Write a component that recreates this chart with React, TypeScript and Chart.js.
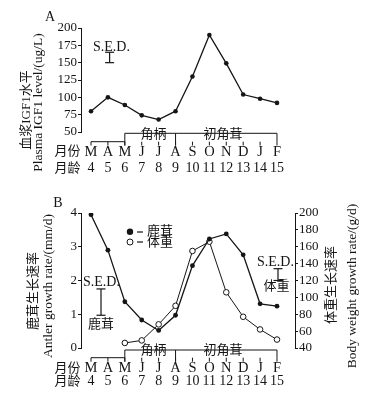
import React, { useEffect, useRef } from 'react';
import { Chart, registerables } from 'chart.js';
Chart.register(...registerables);

// ---- data ----
const months = ['M', 'A', 'M', 'J', 'J', 'A', 'S', 'O', 'N', 'D', 'J', 'F'];
const ages = ['4', '5', '6', '7', '8', '9', '10', '11', '12', '13', '14', '15'];
const igf1 = [80, 100, 89, 74, 68, 80, 130, 190, 149, 104, 98, 92];
const antlerRate = [3.95, 2.9, 1.37, 0.83, 0.52, 0.97, 2.44, 3.23, 3.38, 2.76, 1.31, 1.24];
const bodyRate = [null, null, 46, 49, 68, 90, 155, 166, 106, 77, 62, 50];
const sedIgf = [150, 165];
const sedAntler = [0.97, 1.75];
const sedBody = [120, 134];
const phases = ['角柄', '初角茸'];

const SERIF = "'Liberation Serif', 'Noto Sans CJK SC', serif";
const INK = '#151515';
const X_MIN = -0.592;
const X_MAX = 12.065;

function font(size: number) {
  return `${size}px ${SERIF}`;
}

function text(ctx: CanvasRenderingContext2D, s: string, x: number, y: number, size = 13, align: CanvasTextAlign = 'center') {
  ctx.font = font(size);
  ctx.fillStyle = INK;
  ctx.textAlign = align;
  ctx.textBaseline = 'middle';
  ctx.fillText(s, x, y);
}

function vtext(ctx: CanvasRenderingContext2D, s: string, x: number, y: number, size = 13) {
  ctx.save();
  ctx.translate(x, y);
  ctx.rotate(-Math.PI / 2);
  text(ctx, s, 0, 0, size);
  ctx.restore();
}

function line(ctx: CanvasRenderingContext2D, x1: number, y1: number, x2: number, y2: number) {
  ctx.beginPath();
  ctx.moveTo(x1, y1);
  ctx.lineTo(x2, y2);
  ctx.stroke();
}

function errorBar(ctx: CanvasRenderingContext2D, x: number, yTop: number, yBot: number) {
  line(ctx, x, yTop, x, yBot);
  line(ctx, x - 4.5, yTop, x + 4.5, yTop);
  line(ctx, x - 4.5, yBot, x + 4.5, yBot);
}

// month axis with phase brackets; all in global coords
function monthAxis(ctx: CanvasRenderingContext2D, px: (v: number) => number, topY: number, baseY: number, tickY: number, monthY: number, ageY: number) {
  ctx.strokeStyle = INK;
  ctx.lineWidth = 1;
  line(ctx, px(2), topY, px(11), topY);
  line(ctx, px(2), topY, px(2), tickY);
  line(ctx, px(5), topY, px(5), tickY);
  line(ctx, px(11), topY, px(11), baseY);
  line(ctx, px(0), baseY, px(2), baseY);
  for (let i = 0; i < months.length; i++) {
    line(ctx, px(i), baseY, px(i), tickY);
    text(ctx, months[i], px(i), monthY, 14.5);
    text(ctx, ages[i], px(i), ageY, 14);
  }
  text(ctx, phases[0], px(3.7), topY + 1, 13);
  text(ctx, phases[1], px(7.8), topY + 1, 13);
  text(ctx, '月份', 67.5, monthY, 13);
  text(ctx, '月龄', 67.5, ageY, 13);
}

function baseScaleX() {
  return { type: 'linear' as const, display: false, min: X_MIN, max: X_MAX };
}

function yAxis(position: 'left' | 'right', min: number, max: number, step: number, width: number) {
  return {
    type: 'linear' as const,
    position,
    min,
    max,
    ticks: { stepSize: step, autoSkip: false, font: { family: SERIF, size: 13 }, color: INK, padding: 1 },
    grid: { drawOnChartArea: false, drawTicks: true, tickLength: 3, color: INK, lineWidth: 1 },
    border: { display: true, color: INK, width: 1 },
    afterFit: (s: any) => {
      s.width = width;
    },
  };
}

function ChartA() {
  const ref = useRef<HTMLCanvasElement>(null);
  useEffect(() => {
    const OFF = 0;
    const extras = {
      id: 'extrasA',
      afterDraw(chart: any) {
        const ctx = chart.ctx as CanvasRenderingContext2D;
        const xs = chart.scales.x;
        const ys = chart.scales.y;
        const px = (v: number) => xs.getPixelForValue(v);
        ctx.save();
        ctx.translate(0, -OFF);
        text(ctx, 'A', 50, 17, 14);
        text(ctx, 'S.E.D.', 111.5, 47, 14);
        ctx.strokeStyle = INK;
        ctx.lineWidth = 1.2;
        errorBar(ctx, px(1.1), ys.getPixelForValue(sedIgf[1]) + OFF, ys.getPixelForValue(sedIgf[0]) + OFF);
        monthAxis(ctx, px, 133.3, 141.7, 145.5, 152, 168.3);
        vtext(ctx, '血浆IGF1水平', 27, 110, 13);
        vtext(ctx, 'Plasma IGF1 level/(ug/L)', 38.5, 102.5, 13.5);
        ctx.restore();
      },
    };
    const chart = new Chart(ref.current!, {
      type: 'line',
      data: {
        datasets: [
          {
            data: igf1.map((v, i) => ({ x: i, y: v })),
            borderColor: INK,
            backgroundColor: INK,
            borderWidth: 1.3,
            pointRadius: 2.3,
            pointBorderWidth: 0,
            tension: 0,
          },
        ],
      },
      options: {
        responsive: false,
        animation: false,
        devicePixelRatio: 1,
        layout: { padding: { left: 0, right: 74, top: 28, bottom: 58 } },
        plugins: { legend: { display: false }, tooltip: { enabled: false } },
        scales: {
          x: baseScaleX(),
          y: yAxis('left', 50, 200, 25, 81),
        },
      } as any,
      plugins: [extras],
    });
    return () => chart.destroy();
  }, []);
  return <canvas ref={ref} width={369} height={190} style={{ position: 'absolute', left: 0, top: 0 }} />;
}

function ChartB() {
  const ref = useRef<HTMLCanvasElement>(null);
  useEffect(() => {
    const OFF = 190;
    const extras = {
      id: 'extrasB',
      afterDraw(chart: any) {
        const ctx = chart.ctx as CanvasRenderingContext2D;
        const xs = chart.scales.x;
        const yl = chart.scales.y;
        const yr = chart.scales.y1;
        const px = (v: number) => xs.getPixelForValue(v);
        ctx.save();
        ctx.translate(0, -OFF);
        text(ctx, 'B', 58, 203, 14);
        // legend
        ctx.fillStyle = INK;
        ctx.beginPath();
        ctx.arc(130, 231.7, 3.2, 0, Math.PI * 2);
        ctx.fill();
        ctx.strokeStyle = INK;
        ctx.lineWidth = 1;
        ctx.beginPath();
        ctx.arc(130, 242, 3, 0, Math.PI * 2);
        ctx.stroke();
        ctx.lineWidth = 1.2;
        line(ctx, 137, 232, 143, 232);
        line(ctx, 137, 242, 143, 242);
        text(ctx, '鹿茸', 147, 232, 13, 'left');
        text(ctx, '体重', 147, 242.5, 13, 'left');
        // S.E.D. left
        text(ctx, 'S.E.D.', 101.5, 282, 14);
        ctx.lineWidth = 1.2;
        errorBar(ctx, 101, yl.getPixelForValue(sedAntler[1]) + OFF, yl.getPixelForValue(sedAntler[0]) + OFF);
        text(ctx, '鹿茸', 101, 325, 13);
        // S.E.D. right
        text(ctx, 'S.E.D.', 275.5, 262, 14);
        errorBar(ctx, 278, yr.getPixelForValue(sedBody[1]) + OFF, yr.getPixelForValue(sedBody[0]) + OFF);
        text(ctx, '体重', 276.5, 287, 13);
        monthAxis(ctx, px, 350, 357.7, 361.7, 368.3, 381.7);
        vtext(ctx, '鹿茸生长速率', 33.5, 291, 13);
        vtext(ctx, 'Antler growth rate/(mm/d)', 48, 286, 13.5);
        vtext(ctx, '体重生长速率', 332, 285, 13);
        vtext(ctx, 'Body weight growth rate/(g/d)', 352, 286, 13.5);
        ctx.restore();
      },
    };
    const chart = new Chart(ref.current!, {
      type: 'line',
      data: {
        datasets: [
          {
            data: antlerRate.map((v, i) => ({ x: i, y: v })),
            yAxisID: 'y',
            borderColor: INK,
            backgroundColor: INK,
            borderWidth: 1.3,
            pointRadius: 2.4,
            pointBorderWidth: 0,
            tension: 0,
          },
          {
            data: bodyRate.map((v, i) => ({ x: i, y: v })),
            yAxisID: 'y1',
            borderColor: INK,
            backgroundColor: '#ffffff',
            borderWidth: 1,
            pointRadius: 2.8,
            pointBorderWidth: 1,
            tension: 0,
            spanGaps: false,
          },
        ],
      },
      options: {
        responsive: false,
        animation: false,
        devicePixelRatio: 1,
        layout: { padding: { left: 0, right: 0, top: 23, bottom: 56 } },
        plugins: { legend: { display: false }, tooltip: { enabled: false } },
        scales: {
          x: baseScaleX(),
          y: yAxis('left', 0, 4, 1, 81),
          y1: yAxis('right', 40, 200, 20, 74),
        },
      } as any,
      plugins: [extras],
    });
    return () => chart.destroy();
  }, []);
  return <canvas ref={ref} width={369} height={214} style={{ position: 'absolute', left: 0, top: 190 }} />;
}

export default function App() {
  return (
    <div style={{ position: 'absolute', left: 0, top: 0, width: 369, height: 404, background: '#fff', overflow: 'hidden' }}>
      <ChartA />
      <ChartB />
    </div>
  );
}
